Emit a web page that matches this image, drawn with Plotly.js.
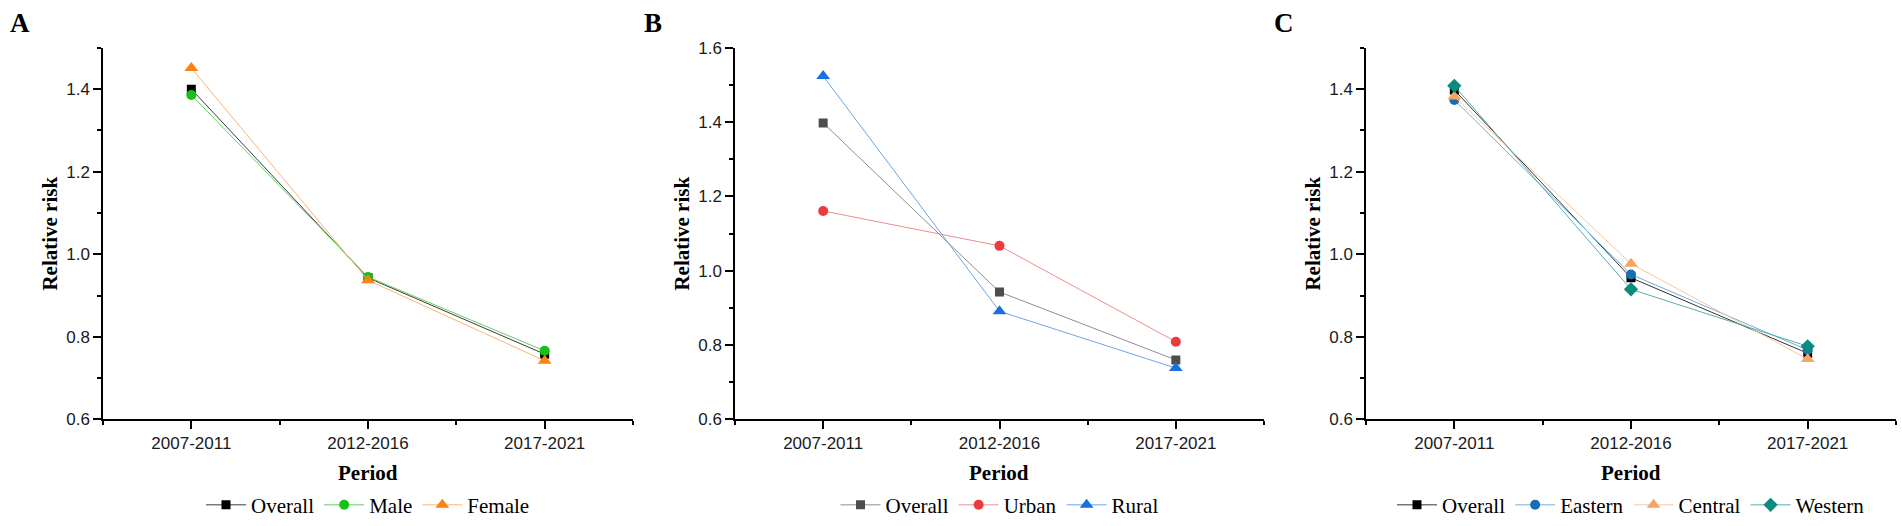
<!DOCTYPE html>
<html>
<head>
<meta charset="utf-8">
<script src="https://cdn.plot.ly/plotly-3.0.1.min.js"></script>
<style>
  html, body { margin: 0; padding: 0; background: #fff; }
  #chart { width: 1902px; height: 526px; }
</style>
</head>
<body>
<div id="chart"></div>
<script>
// ---------- data ----------
const periods = ['2007-2011', '2012-2016', '2017-2021'];

// Panel A (sex)
const overallA = [1.400, 0.943, 0.758];
const maleA    = [1.386, 0.945, 0.766];
const femaleA  = [1.451, 0.937, 0.742];

// Panel B (urban / rural)
const overallB = [1.398, 0.943, 0.760];
const urbanB   = [1.161, 1.067, 0.809];
const ruralB   = [1.524, 0.891, 0.738];

// Panel C (region)
const overallC = [1.398, 0.943, 0.760];
const easternC = [1.374, 0.951, 0.768];
const centralC = [1.382, 0.977, 0.746];
const westernC = [1.408, 0.915, 0.777];

const panelLetters = ['A', 'B', 'C'];
const xTitle = 'Period';
const yTitle = 'Relative risk';

// ---------- layout helpers ----------
const W = 1902, H = 526;
const idx = periods.map((p, i) => i);
const plotPx = [[103, 633], [735, 1264], [1366, 1896]];
const yTopPx = 48.5, yBotPx = 425;
const yDom = [1 - yBotPx / H, 1 - yTopPx / H];

function mk(xs, ys, name, mColor, lColor, symbol, size, n) {
  const suffix = n === 1 ? '' : String(n);
  return {
    type: 'scatter', mode: 'lines+markers',
    x: xs, y: ys, name: name,
    xaxis: 'x' + suffix, yaxis: 'y' + suffix,
    legend: 'legend' + suffix,
    line: { color: lColor, width: 1 },
    marker: { color: mColor, symbol: symbol, size: size, line: { width: 0 } },
    hoverinfo: 'x+y+name'
  };
}

const traces = [
  mk(idx, overallA, 'Overall', '#000000', '#3a3a3a', 'square', 9, 1),
  mk(idx, maleA, 'Male', '#16c016', '#62cf62', 'circle', 10, 1),
  mk(idx, femaleA, 'Female', '#fb8114', '#f9b574', 'triangle-up', 12, 1),

  mk(idx, overallB, 'Overall', '#4d4d4d', '#8e8e8e', 'square', 9, 2),
  mk(idx, urbanB, 'Urban', '#ea3b3e', '#ef8c8c', 'circle', 10, 2),
  mk(idx, ruralB, 'Rural', '#1a6fdf', '#6aa5ea', 'triangle-up', 12, 2),

  mk(idx, overallC, 'Overall', '#000000', '#333333', 'square', 9, 3),
  mk(idx, easternC, 'Eastern', '#1a6db3', '#6fb0d8', 'circle', 10, 3),
  mk(idx, centralC, 'Central', '#f6a560', '#f8c79c', 'triangle-up', 12, 3),
  mk(idx, westernC, 'Western', '#0b8a80', '#58aeaa', 'diamond', 11, 3)
];

const SERIF = '"Liberation Serif", "Times New Roman", Times, serif';
const SANS = '"Liberation Sans", Arial, sans-serif';
const tickFont = () => ({ family: SANS, size: 17, color: '#1a1a1a' });
const titleFont = () => ({ family: SERIF, size: 21, color: '#000', weight: 'bold' });
const legendFont = () => ({ family: SERIF, size: 21, color: '#000' });

const layout = {
  width: W, height: H,
  margin: { l: 0, r: 0, t: 0, b: 0 },
  paper_bgcolor: '#ffffff', plot_bgcolor: '#ffffff',
  showlegend: true,
  annotations: [],
  hovermode: 'closest'
};

const yRanges = [[0.6, 1.5001], [0.6, 1.6001], [0.6, 1.5001]];

for (let k = 0; k < 3; k++) {
  const suffix = k === 0 ? '' : String(k + 1);
  const xd = [plotPx[k][0] / W, plotPx[k][1] / W];
  layout['xaxis' + suffix] = {
    domain: xd, anchor: 'y' + suffix, type: 'linear',
    range: [-0.5, 2.5], tickmode: 'array', tickvals: idx, ticktext: periods,
    ticks: 'outside', ticklen: 8, tickwidth: 1.5, tickcolor: '#000',
    minor: { ticks: 'outside', tick0: 0.5, dtick: 1, ticklen: 4, tickwidth: 1.5, tickcolor: '#000', showgrid: false },
    showline: true, linecolor: '#000', linewidth: 1.5,
    showgrid: false, zeroline: false, automargin: false,
    tickfont: tickFont(), fixedrange: true
  };
  layout['yaxis' + suffix] = {
    domain: yDom, anchor: 'x' + suffix, type: 'linear',
    range: yRanges[k], tick0: 0.6, dtick: 0.2, tickformat: '.1f',
    ticks: 'outside', ticklen: 8, tickwidth: 1.5, tickcolor: '#000',
    minor: { ticks: 'outside', tick0: 0.6, dtick: 0.1, ticklen: 4, tickwidth: 1.5, tickcolor: '#000', showgrid: false },
    showline: true, linecolor: '#000', linewidth: 1.5,
    showgrid: false, zeroline: false, automargin: false,
    tickfont: tickFont(), fixedrange: true
  };
  layout['legend' + suffix] = {
    orientation: 'h', xref: 'paper', yref: 'paper',
    x: (xd[0] + xd[1]) / 2, xanchor: 'center',
    y: 1 - 512 / H, yanchor: 'middle',
    font: legendFont(), bgcolor: 'rgba(0,0,0,0)',
    itemwidth: 40, tracegroupgap: 0, itemclick: false, itemdoubleclick: false
  };

  // axis titles
  layout.annotations.push({
    text: xTitle, xref: 'paper', yref: 'paper',
    x: (xd[0] + xd[1]) / 2, y: 1 - 479 / H, xanchor: 'center', yanchor: 'middle',
    showarrow: false, font: titleFont()
  });
  layout.annotations.push({
    text: yTitle, xref: 'paper', yref: 'paper', textangle: -90,
    x: (plotPx[k][0] - 53) / W, y: (yDom[0] + yDom[1]) / 2, xanchor: 'center', yanchor: 'middle',
    showarrow: false, font: titleFont()
  });
}

const letterX = [20, 653, 1284];
panelLetters.forEach((L, k) => {
  layout.annotations.push({
    text: L, xref: 'paper', yref: 'paper',
    x: letterX[k] / W, y: 1 - 23 / H, xanchor: 'center', yanchor: 'middle',
    showarrow: false,
    font: { family: SERIF, size: 27, color: '#000', weight: 'bold' }
  });
});

Plotly.newPlot('chart', traces, layout, { displayModeBar: false, staticPlot: false });
</script>
</body>
</html>
